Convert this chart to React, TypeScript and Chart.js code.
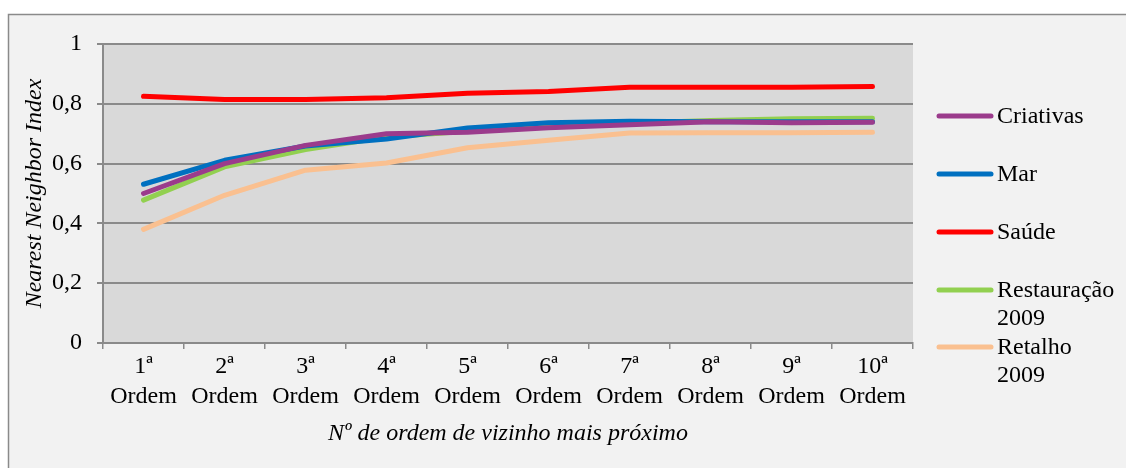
import React, { useEffect, useRef } from "react";
import { Chart, registerables } from "chart.js";

Chart.register(...registerables);

const ordinals = ["1ª", "2ª", "3ª", "4ª", "5ª", "6ª", "7ª", "8ª", "9ª", "10ª"];
const categoryLabels = ordinals.map((o) => [o, "Ordem"]);

const criativas = [0.5, 0.6, 0.661, 0.7, 0.705, 0.72, 0.73, 0.74, 0.737, 0.738];
const mar = [0.531, 0.611, 0.659, 0.682, 0.719, 0.737, 0.742, 0.74, 0.74, 0.74];
const saude = [0.825, 0.814, 0.814, 0.82, 0.835, 0.841, 0.855, 0.855, 0.855, 0.858];
const restauracao = [0.478, 0.589, 0.647, 0.689, 0.708, 0.724, 0.735, 0.744, 0.75, 0.752];
const retalho = [0.38, 0.494, 0.578, 0.602, 0.653, 0.678, 0.702, 0.703, 0.703, 0.705];

const seriesNames = [["Criativas"], ["Mar"], ["Saúde"], ["Restauração", "2009"], ["Retalho", "2009"]];
const seriesColors = ["#9b3b8c", "#0070c0", "#ff0000", "#92d050", "#fac090"];
const seriesValues = [criativas, mar, saude, restauracao, retalho];

const yTitle = "Nearest Neighbor Index";
const xTitle = "Nº de ordem de vizinho mais próximo";

const FONT = "'Liberation Serif', 'Times New Roman', serif";
const FS = 24;

const backgroundPlugin = {
  id: "bgPlugin",
  beforeDraw(chart: any) {
    const { ctx, chartArea } = chart;
    ctx.save();
    ctx.fillStyle = "#ffffff";
    ctx.fillRect(0, 0, chart.width, chart.height);
    ctx.fillStyle = "#f2f2f2";
    ctx.fillRect(8, 14, chart.width, chart.height);
    ctx.strokeStyle = "#8a8a8a";
    ctx.lineWidth = 1.5;
    ctx.strokeRect(8.5, 14.5, chart.width + 10, chart.height + 10);
    ctx.fillStyle = "#d9d9d9";
    ctx.fillRect(chartArea.left, chartArea.top, chartArea.right - chartArea.left, chartArea.bottom - chartArea.top);
    ctx.restore();
  },
};

const legendPlugin = {
  id: "customLegend",
  afterDraw(chart: any) {
    const { ctx } = chart;
    const ys = [116, 174, 232, 290, 347];
    ctx.save();
    ctx.font = `${FS}px ${FONT}`;
    ctx.textBaseline = "middle";
    ctx.textAlign = "left";
    chart.data.datasets.forEach((ds: any, i: number) => {
      const y = ys[i];
      ctx.strokeStyle = ds.borderColor;
      ctx.lineWidth = 5;
      ctx.lineCap = "round";
      ctx.beginPath();
      ctx.moveTo(939, y);
      ctx.lineTo(991, y);
      ctx.stroke();
      ctx.fillStyle = "#000000";
      seriesNames[i].forEach((t, j) => ctx.fillText(t, 997, y + 1 + j * 28));
    });
    ctx.restore();
  },
};

export default function App() {
  const ref = useRef<HTMLCanvasElement | null>(null);
  useEffect(() => {
    if (!ref.current) return;
    const chart = new Chart(ref.current, {
      type: "line",
      data: {
        labels: categoryLabels,
        datasets: seriesValues.map((vals, i) => ({
          label: seriesNames[i].join(" "),
          data: vals,
          borderColor: seriesColors[i],
          backgroundColor: seriesColors[i],
          borderWidth: 5,
          pointRadius: 0,
          tension: 0,
          borderCapStyle: "round",
          borderJoinStyle: "round",
        })),
      },
      options: {
        responsive: false,
        devicePixelRatio: 1,
        animation: false,
        layout: { padding: { top: 44, right: 213, bottom: 0, left: 0 } },
        plugins: { legend: { display: false }, tooltip: { enabled: false } },
        scales: {
          x: {
            offset: true,
            grid: {
              offset: true,
              drawOnChartArea: false,
              drawTicks: true,
              tickLength: 6,
              color: "#8a8a8a",
              lineWidth: 1.5,
            },
            border: { color: "#8a8a8a", width: 2 },
            ticks: {
              color: "#000000",
              font: { family: FONT, size: FS, lineHeight: 1.25 },
              padding: 3,
              maxRotation: 0,
              autoSkip: false,
            },
            title: {
              display: true,
              text: xTitle,
              color: "#000000",
              font: { family: FONT, size: FS, style: "italic", lineHeight: 1.2 },
              padding: { top: 0, bottom: 20 },
            },
            afterFit(scale: any) {
              scale.height = 125;
            },
          },
          y: {
            min: 0,
            max: 1,
            grid: { color: "#8a8a8a", lineWidth: 2, tickLength: 6 },
            border: { color: "#8a8a8a", width: 2 },
            ticks: {
              stepSize: 0.2,
              color: "#000000",
              font: { family: FONT, size: FS },
              padding: 15,
              callback: (v: any) => (Math.round(Number(v) * 10) / 10).toString().replace(".", ","),
            },
            title: {
              display: true,
              text: yTitle,
              color: "#000000",
              font: { family: FONT, size: FS, style: "italic", lineHeight: 1.2 },
              padding: { top: 20, bottom: 0 },
            },
            afterFit(scale: any) {
              scale.width = 103;
            },
          },
        },
      },
      plugins: [backgroundPlugin, legendPlugin],
    } as any);
    return () => chart.destroy();
  }, []);
  return (
    <canvas
      ref={ref}
      width={1126}
      height={468}
      style={{ position: "fixed", left: 0, top: 0, width: 1126, height: 468 }}
    />
  );
}
